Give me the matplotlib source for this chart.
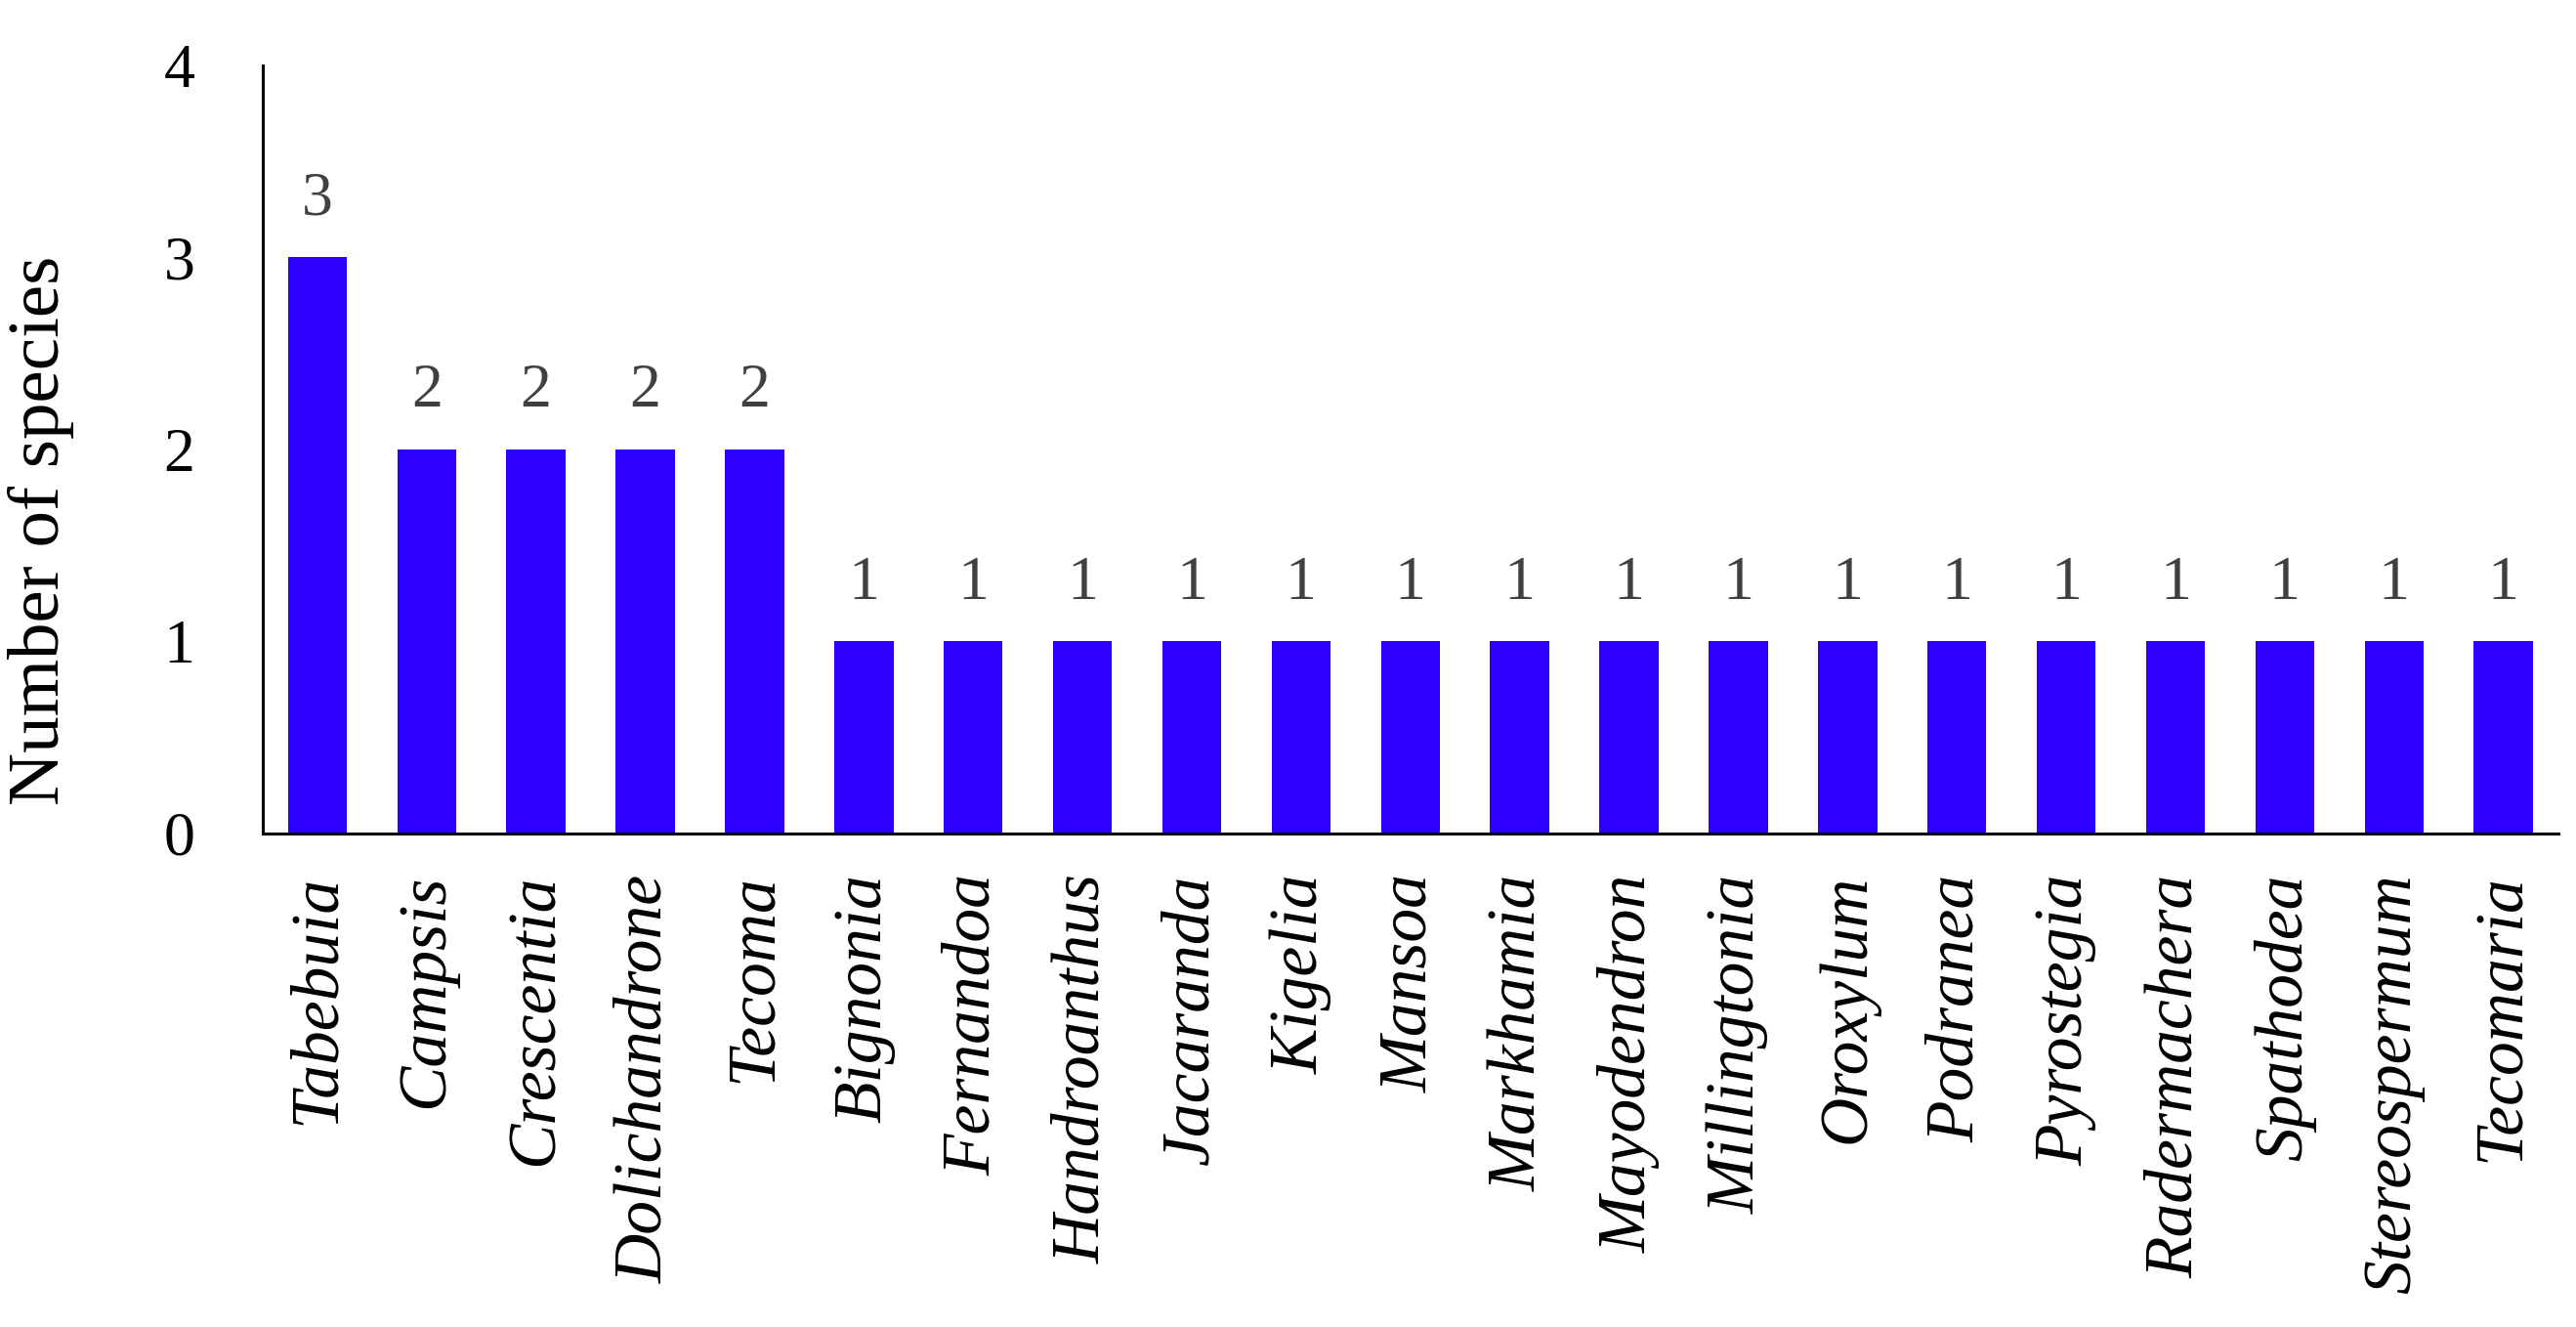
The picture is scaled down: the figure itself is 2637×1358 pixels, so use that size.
import matplotlib
matplotlib.use("Agg")
import matplotlib.pyplot as plt

genera = ["Tabebuia", "Campsis", "Crescentia", "Dolichandrone", "Tecoma",
          "Bignonia", "Fernandoa", "Handroanthus", "Jacaranda", "Kigelia",
          "Mansoa", "Markhamia", "Mayodendron", "Millingtonia", "Oroxylum",
          "Podranea", "Pyrostegia", "Radermachera", "Spathodea",
          "Stereospermum", "Tecomaria"]
species_counts = [3, 2, 2, 2, 2, 1, 1, 1, 1, 1, 1, 1, 1, 1, 1, 1, 1, 1, 1, 1, 1]
y_ticks = [0, 1, 2, 3, 4]

plt.rcParams['font.family'] = ['Liberation Serif', 'DejaVu Serif']

fig = plt.figure(figsize=(26.37, 13.58), dpi=100)
ax = fig.add_axes([0.102, 0.372, 0.891, 0.579])

x = list(range(len(genera)))
ax.bar(x, species_counts, width=0.54, color='#2D00FF', zorder=2)

for xi, v in zip(x, species_counts):
    ax.text(xi, v + 0.22, str(v), ha='center', va='baseline',
            fontsize=46, color='#404040')

ax.set_xlim(-0.5, 20.5)
ax.set_ylim(0, 4)
ax.set_yticks(y_ticks)
ax.set_yticklabels([str(t) for t in y_ticks], fontsize=46)
ax.set_xticks(x)
ax.set_xticklabels(genera, rotation=90, fontsize=50, style='italic',
                   va='top', ha='center')
ax.tick_params(axis='y', length=0, pad=50)
ax.tick_params(axis='x', length=0, pad=30)

for s in ['top', 'right']:
    ax.spines[s].set_visible(False)
for s in ['left', 'bottom']:
    ax.spines[s].set_linewidth(2.2)
    ax.spines[s].set_color('black')

ax.set_ylabel("Number of species", fontsize=54)
ax.yaxis.set_label_coords(-0.082, 0.394)

fig.savefig("out.png", dpi=100)
